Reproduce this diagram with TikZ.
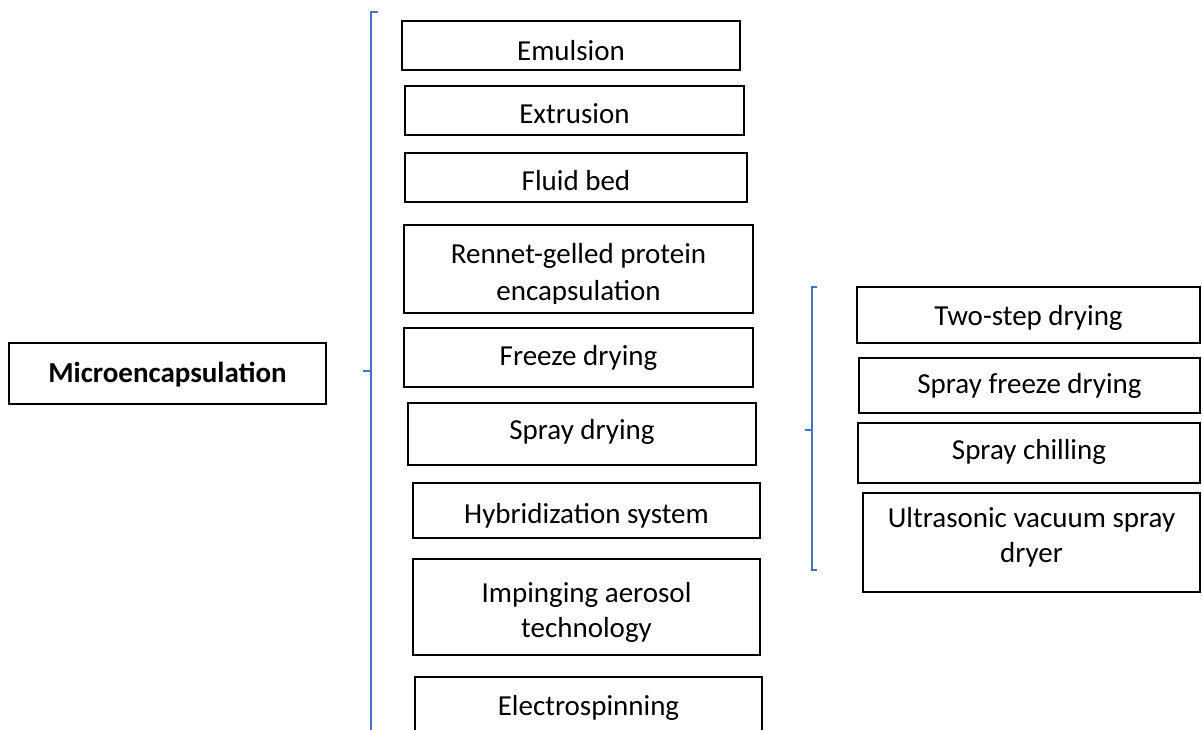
\documentclass[tikz,border=0pt]{standalone}
\usepackage{fontspec}
\setmainfont{Carlito}
\definecolor{bracecol}{RGB}{68,114,196}
\tikzset{
  box/.style={draw=black, line width=1.5pt, inner sep=0pt},
  txt/.style={font=\fontsize{29}{36}\selectfont, inner sep=0pt, anchor=base},
  btxt/.style={txt, font=\fontsize{29}{36}\selectfont\bfseries},
  brace/.style={draw=bracecol, line width=1.3pt}
}
\newcommand{\bx}[5]{% name, x1, y1, x2, y2
  \node[box, minimum width={#4-#2}, minimum height={#5-#3}] (#1) at ({(#2+#4)/2},{(#3+#5)/2}) {};}
\begin{document}
\begin{tikzpicture}[x=1pt, y=-1pt]
\clip (0,0) rectangle (1202,729);
\fill[white] (0,0) rectangle (1202,729);

% left root
\bx{micro}{9}{343}{326}{404}
\node[btxt] (microT) at (167.5,382) {Microencapsulation};

% middle column
\bx{emul}{402}{21}{740}{70}
\node[txt] (emulT) at (571,60) {Emulsion};
\bx{extr}{405}{86}{744}{135}
\node[txt] (extrT) at (574.5,123) {Extrusion};
\bx{fluid}{405}{153}{747}{202}
\node[txt] (fluidT) at (576,190) {Fluid bed};
\bx{rennet}{404}{225}{753}{313}
\node[txt] (rennetT) at (578.5,263) {Rennet-gelled protein};
\begin{scope}
\clip (405,226) rectangle (752,303);
\node[txt] (rennetT2) at (578.5,300) {encapsulation};
\end{scope}
\bx{freeze}{404}{328}{753}{387}
\node[txt] (freezeT) at (578.5,365) {Freeze drying};
\bx{spray}{408}{403}{756}{465}
\node[txt] (sprayT) at (582,439) {Spray drying};
\bx{hybrid}{413}{483}{760}{538}
\node[txt] (hybridT) at (586.5,523) {Hybridization system};
\bx{imping}{413}{559}{760}{655}
\node[txt] (impingT) at (586.5,602) {Impinging aerosol};
\node[txt] (impingT2) at (586.5,637) {technology};
\bx{electro}{415}{677}{762}{745}
\node[txt] (electroT) at (588.5,715) {Electrospinning};

% right column
\bx{twostep}{857}{287}{1200}{343}
\node[txt] (twostepT) at (1028.5,325) {Two-step drying};
\bx{sfd}{859}{358}{1200}{413}
\node[txt] (sfdT) at (1029.5,393) {Spray freeze drying};
\bx{chill}{858}{423}{1200}{483}
\node[txt] (chillT) at (1029,459) {Spray chilling};
\bx{ultra}{863}{493}{1200}{592}
\node[txt] (ultraT) at (1031.5,527) {Ultrasonic vacuum spray};
\node[txt] (ultraT2) at (1031.5,562) {dryer};

% braces
\coordinate (b1top) at (371,12);
\coordinate (b1mid) at (371,371);
\coordinate (b1bot) at (371,732);
\draw[brace] ([xshift=7pt]b1top) -- (b1top) -- (b1bot);
\draw[brace] (b1mid) -- ++(-8,0);

\coordinate (b2top) at (812,287);
\coordinate (b2mid) at (812,430);
\coordinate (b2bot) at (812,570);
\draw[brace] ([xshift=5pt]b2top) -- (b2top) -- (b2bot) -- ([xshift=5pt]b2bot);
\draw[brace] (b2mid) -- ++(-7,0);
\end{tikzpicture}
\end{document}
